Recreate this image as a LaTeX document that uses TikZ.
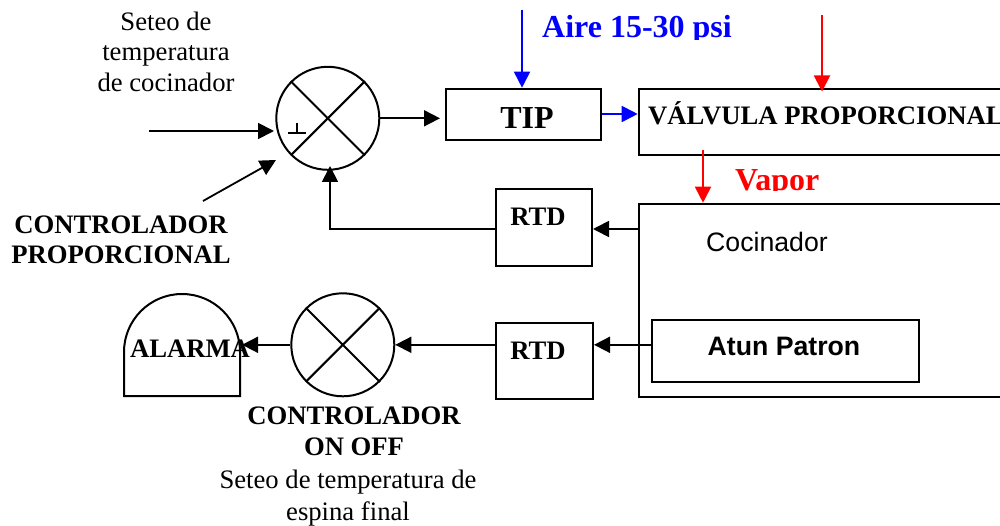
\documentclass[tikz,border=0pt]{standalone}
\usepackage{fontspec}
\setmainfont{Liberation Serif}
\setsansfont{Liberation Sans}
\usetikzlibrary{arrows.meta}
\definecolor{pblue}{RGB}{0,0,255}
\definecolor{pred}{RGB}{255,0,0}
\tikzset{x=1pt,y=-1pt,
  ln/.style={line width=2pt,draw=black},
  arr/.style={line width=1.8pt,-{Triangle[length=16pt,width=16pt]}},
  lbl/.style={inner sep=0pt,align=center},
  reg/.style={lbl,font=\fontsize{26.67}{31}\selectfont},
  bld/.style={lbl,font=\fontsize{26.67}{30}\selectfont\bfseries},
  big/.style={lbl,font=\fontsize{32}{36}\selectfont\bfseries},
  sumc/.style={circle,draw,line width=2pt,minimum size=103pt,inner sep=0pt},
  boxn/.style={rectangle,draw,line width=2pt,inner sep=0pt,anchor=north west},
}
\begin{document}
\begin{tikzpicture}
\useasboundingbox (0,0) rectangle (1000,526);
\clip (0,0) rectangle (1000,526);
% circles
\node[sumc] (s1) at (327.8,118.3) {};
\node[sumc] (s2) at (342.8,344.8) {};
\draw[ln] (s1.north west)--(s1.south east) (s1.north east)--(s1.south west);
\draw[ln] (s2.north west)--(s2.south east) (s2.north east)--(s2.south west);
\coordinate (pa) at (288,133); \coordinate (pb) at (306,133);
\coordinate (pc) at (297,123); \coordinate (pd) at (297,133);
\draw[ln] (pa)--(pb) (pc)--(pd);
% boxes
\node[boxn,minimum width=155pt,minimum height=51pt] (tip) at (445.3,87.7) {};
\node[boxn,minimum width=420pt,minimum height=66pt] (valv) at (637.7,87.7) {};
\node[boxn,minimum width=420pt,minimum height=193pt] (coc) at (637.7,202.7) {};
\node[boxn,minimum width=96pt,minimum height=77pt] (rtda) at (495,187.7) {};
\node[boxn,minimum width=97pt,minimum height=76pt] (rtdb) at (495,321.7) {};
\node[boxn,minimum width=267pt,minimum height=62pt] (atun) at (650.7,318.7) {};
\draw[ln] (124,396) -- (124,352) arc[start angle=180,end angle=360,radius=58] -- (240,396) -- cycle;
\coordinate (alarmE) at (242,344.8);
% labels
\node[reg,font=\fontsize{26.67}{30.5}\selectfont] (t1) at (166,51.5) {Seteo de\\temperatura\\de cocinador};
\node[bld] (t2) at (121,240) {CONTROLADOR\\PROPORCIONAL};
\node[big] (tipt) at (527,118) {TIP};
\node[bld,anchor=west] (valt) at (648,113) {VÁLVULA PROPORCIONAL};
\node[bld] (rtdat) at (538,217) {RTD};
\node[bld] (rtdbt) at (538,351) {RTD};
\node[lbl,font=\fontsize{26.67}{30}\selectfont\sffamily] (coct) at (767,242) {Cocinador};
\node[lbl,font=\fontsize{26.67}{30}\selectfont\sffamily\bfseries] (atunt) at (784,346) {Atun Patron};
\node[bld] (alat) at (190,349) {ALARMA};
\node[bld,font=\fontsize{26.67}{31}\selectfont\bfseries] (t3) at (354,431.5) {CONTROLADOR\\ON OFF};
\node[reg,font=\fontsize{26.67}{32}\selectfont] (t4) at (348,498) {Seteo de temperatura de\\espina final};
\begin{scope}
\clip (530,0) rectangle (760,40);
\node[big,text=pblue,anchor=west] (air) at (542,30) {Aire 15-30 psi};
\end{scope}
\begin{scope}
\clip (720,160) rectangle (840,190.5);
\node[big,text=pred,anchor=west] (vap) at (735,183.5) {Vapor};
\end{scope}
% connectors
\coordinate (inA) at (149,131); \coordinate (inAe) at (274,131);
\coordinate (inB) at (203,201); \coordinate (inBe) at (276,160);
\draw[arr] (inA)--(inAe);
\draw[arr] (inB)--(inBe);
\coordinate (outE) at (440,118.3);
\draw[arr] (s1.east)--(outE);
\coordinate (aireS) at (522,10);
\draw[arr,draw=pblue,-{Triangle[length=16pt,width=16pt,color=pblue]}] (aireS)--(tip.north -| aireS);
\draw[arr,draw=pblue,-{Triangle[length=16pt,width=16pt,color=pblue]}] (tip.east |- 0,114)--(valv.west |- 0,114);
\coordinate (vapS) at (822,15);
\draw[arr,draw=pred,-{Triangle[length=16pt,width=16pt,color=pred]}] (vapS)--(822,91.5);
\coordinate (vapT) at (703,150);
\draw[arr,draw=pred,-{Triangle[length=16pt,width=16pt,color=pred]}] (vapT)--(coc.north -| vapT);
\draw[arr] (coc.west |- 0,229)--(rtda.east |- 0,229);
\draw[arr] (rtda.west |- 0,229)-|(330,166);
\draw[arr] (atun.west |- 0,344.8)--(rtdb.east |- 0,344.8);
\draw[arr] (rtdb.west |- 0,344.8)--(s2.east);
\draw[arr] (s2.west)--(alarmE);
\end{tikzpicture}
\end{document}
